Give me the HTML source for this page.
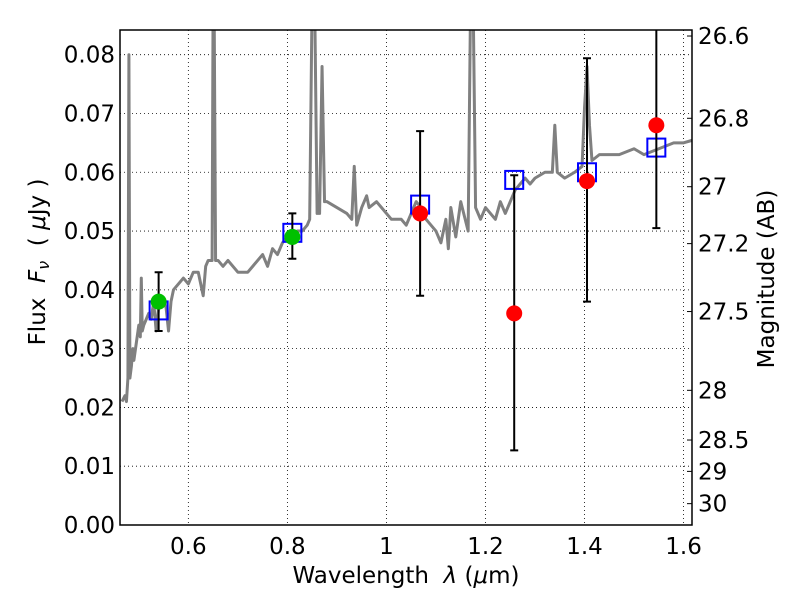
<!DOCTYPE html>
<html><head><meta charset="utf-8"><style>
body{margin:0;background:#fff;width:800px;height:600px;overflow:hidden}
svg{display:block;font-family:"DejaVu Sans","Liberation Sans",sans-serif}
</style></head><body>
<svg id="c" width="800" height="600"></svg>
<script>
const specW=[0.466,0.472,0.475,0.478,0.480,0.482,0.485,0.488,0.49,0.495,0.5,0.503,0.505,0.507,0.51,0.515,0.52,0.525,0.53,0.535,0.54,0.545,0.55,0.555,0.56,0.565,0.57,0.58,0.59,0.6,0.61,0.62,0.63,0.635,0.64,0.648,0.65,0.652,0.655,0.66,0.67,0.68,0.69,0.7,0.72,0.74,0.75,0.76,0.77,0.78,0.79,0.8,0.81,0.82,0.83,0.84,0.845,0.85,0.855,0.86,0.865,0.87,0.875,0.88,0.9,0.92,0.93,0.935,0.94,0.95,0.96,0.965,0.98,1.0,1.01,1.03,1.04,1.06,1.07,1.08,1.1,1.11,1.12,1.125,1.13,1.14,1.15,1.165,1.17,1.175,1.18,1.19,1.2,1.22,1.23,1.24,1.26,1.27,1.28,1.29,1.3,1.32,1.335,1.34,1.345,1.36,1.38,1.395,1.40,1.405,1.41,1.415,1.43,1.47,1.5,1.52,1.55,1.58,1.6,1.62];
const specF=[0.021,0.022,0.021,0.025,0.080,0.025,0.027,0.030,0.028,0.031,0.034,0.032,0.042,0.033,0.034,0.035,0.036,0.035,0.038,0.033,0.037,0.039,0.038,0.037,0.033,0.038,0.040,0.041,0.042,0.041,0.043,0.043,0.039,0.044,0.045,0.045,0.09,0.09,0.045,0.045,0.044,0.045,0.044,0.043,0.043,0.045,0.046,0.044,0.047,0.046,0.048,0.049,0.049,0.050,0.050,0.051,0.052,0.09,0.09,0.053,0.053,0.078,0.055,0.055,0.054,0.053,0.052,0.061,0.051,0.054,0.056,0.054,0.055,0.053,0.052,0.052,0.051,0.055,0.054,0.052,0.050,0.048,0.052,0.047,0.054,0.049,0.055,0.050,0.09,0.09,0.054,0.052,0.054,0.052,0.055,0.053,0.057,0.058,0.059,0.058,0.059,0.060,0.060,0.068,0.060,0.059,0.060,0.061,0.071,0.078,0.068,0.062,0.063,0.063,0.064,0.063,0.064,0.065,0.065,0.0655];
const ptW=[0.54,0.81,1.068,1.258,1.405,1.545];
const ptF=[0.038,0.049,0.053,0.036,0.0585,0.068];
const ptLo=[0.033,0.0453,0.039,0.0127,0.038,0.0505];
const ptHi=[0.043,0.053,0.067,0.0595,0.0794,0.086];
const ptColor=['#00c000','#00c000','red','red','red','red'];
const boxF=[0.0365,0.0497,0.0545,0.0587,0.060,0.0642];
const xTicks=[0.6,0.8,1,1.2,1.4,1.6];
const yTicks=[0,0.01,0.02,0.03,0.04,0.05,0.06,0.07,0.08];
const magTicks=[26.6,26.8,27,27.2,27.5,28,28.5,29,30];
const L=120,R=692,T=30,B=525,X0=0.462,X1=1.617,Y0=0,Y1=0.0842;
const sx=v=>L+(v-X0)/(X1-X0)*(R-L);
const sy=v=>B-(v-Y0)/(Y1-Y0)*(B-T);
const svg=document.getElementById('c');const NS='http://www.w3.org/2000/svg';
function mk(t,a,p){const e=document.createElementNS(NS,t);for(const k in a)e.setAttribute(k,a[k]);(p||svg).appendChild(e);return e;}
const defs=mk('defs',{});const cp=mk('clipPath',{id:'cp'},defs);mk('rect',{x:L,y:T,width:R-L,height:B-T},cp);
xTicks.forEach(v=>{const g=mk('line',{x1:sx(v),x2:sx(v),y1:T,y2:B,stroke:'#000','stroke-width':0.8,'stroke-dasharray':'1,3'});

const t=mk('text',{x:sx(v),y:B+29,'text-anchor':'middle','font-size':23});t.textContent=String(v);
});
yTicks.forEach(v=>{const g=mk('line',{x1:L,x2:R,y1:sy(v),y2:sy(v),stroke:'#000','stroke-width':0.8,'stroke-dasharray':'1,3'});

const t=mk('text',{x:L-5,y:sy(v)+8,'text-anchor':'end','font-size':23});t.textContent=v.toFixed(2);
});
magTicks.forEach(m=>{const f=Math.pow(10,(23.9-m)/2.5);const y=sy(f);
const tk=mk('line',{x1:R-5,x2:R,y1:y,y2:y,stroke:'#000'});
const t=mk('text',{x:R+6,y:y+8,'font-size':23});t.textContent=String(m);
});
const gp=mk('g',{'clip-path':'url(#cp)'});
const sp=mk('polyline',{points:specW.map((w,i)=>sx(w)+','+sy(specF[i])).join(' '),fill:'none',stroke:'#808080','stroke-width':3,'stroke-linejoin':'round'},gp);

ptW.forEach((w,i)=>{const x=sx(w);
const b=mk('rect',{x:x-9,y:sy(boxF[i])-9,width:18,height:18,fill:'none',stroke:'#0000ff','stroke-width':2},gp);

const e=mk('path',{d:`M${x},${sy(ptLo[i])}V${sy(ptHi[i])}M${x-4},${sy(ptLo[i])}h8M${x-4},${sy(ptHi[i])}h8`,stroke:'#000','stroke-width':2,fill:'none'},gp);

const c=mk('circle',{cx:x,cy:sy(ptF[i]),r:8,fill:ptColor[i]},gp);
});
const fr=mk('rect',{x:L,y:T,width:R-L,height:B-T,fill:'none',stroke:'#000','stroke-width':1.5});

</script>
<svg width="800" height="600" style="position:absolute;left:0;top:0">
<text x="406" y="583" text-anchor="middle" font-size="23" font-family="DejaVu Sans,sans-serif" xml:space="preserve">Wavelength  <tspan font-style="italic">λ</tspan> (<tspan font-style="italic">μ</tspan>m)</text>
<text transform="translate(45,262) rotate(-90)" text-anchor="middle" font-size="23" font-family="DejaVu Sans,sans-serif" xml:space="preserve">Flux  <tspan font-style="italic">F</tspan><tspan font-style="italic" font-size="16" dy="4">ν</tspan><tspan dy="-4">  ( </tspan><tspan font-style="italic">μ</tspan>Jy )</text>
<text transform="translate(774,279) rotate(-90)" text-anchor="middle" font-size="23" font-family="DejaVu Sans,sans-serif">Magnitude (AB)</text>
</svg>
</body></html>
